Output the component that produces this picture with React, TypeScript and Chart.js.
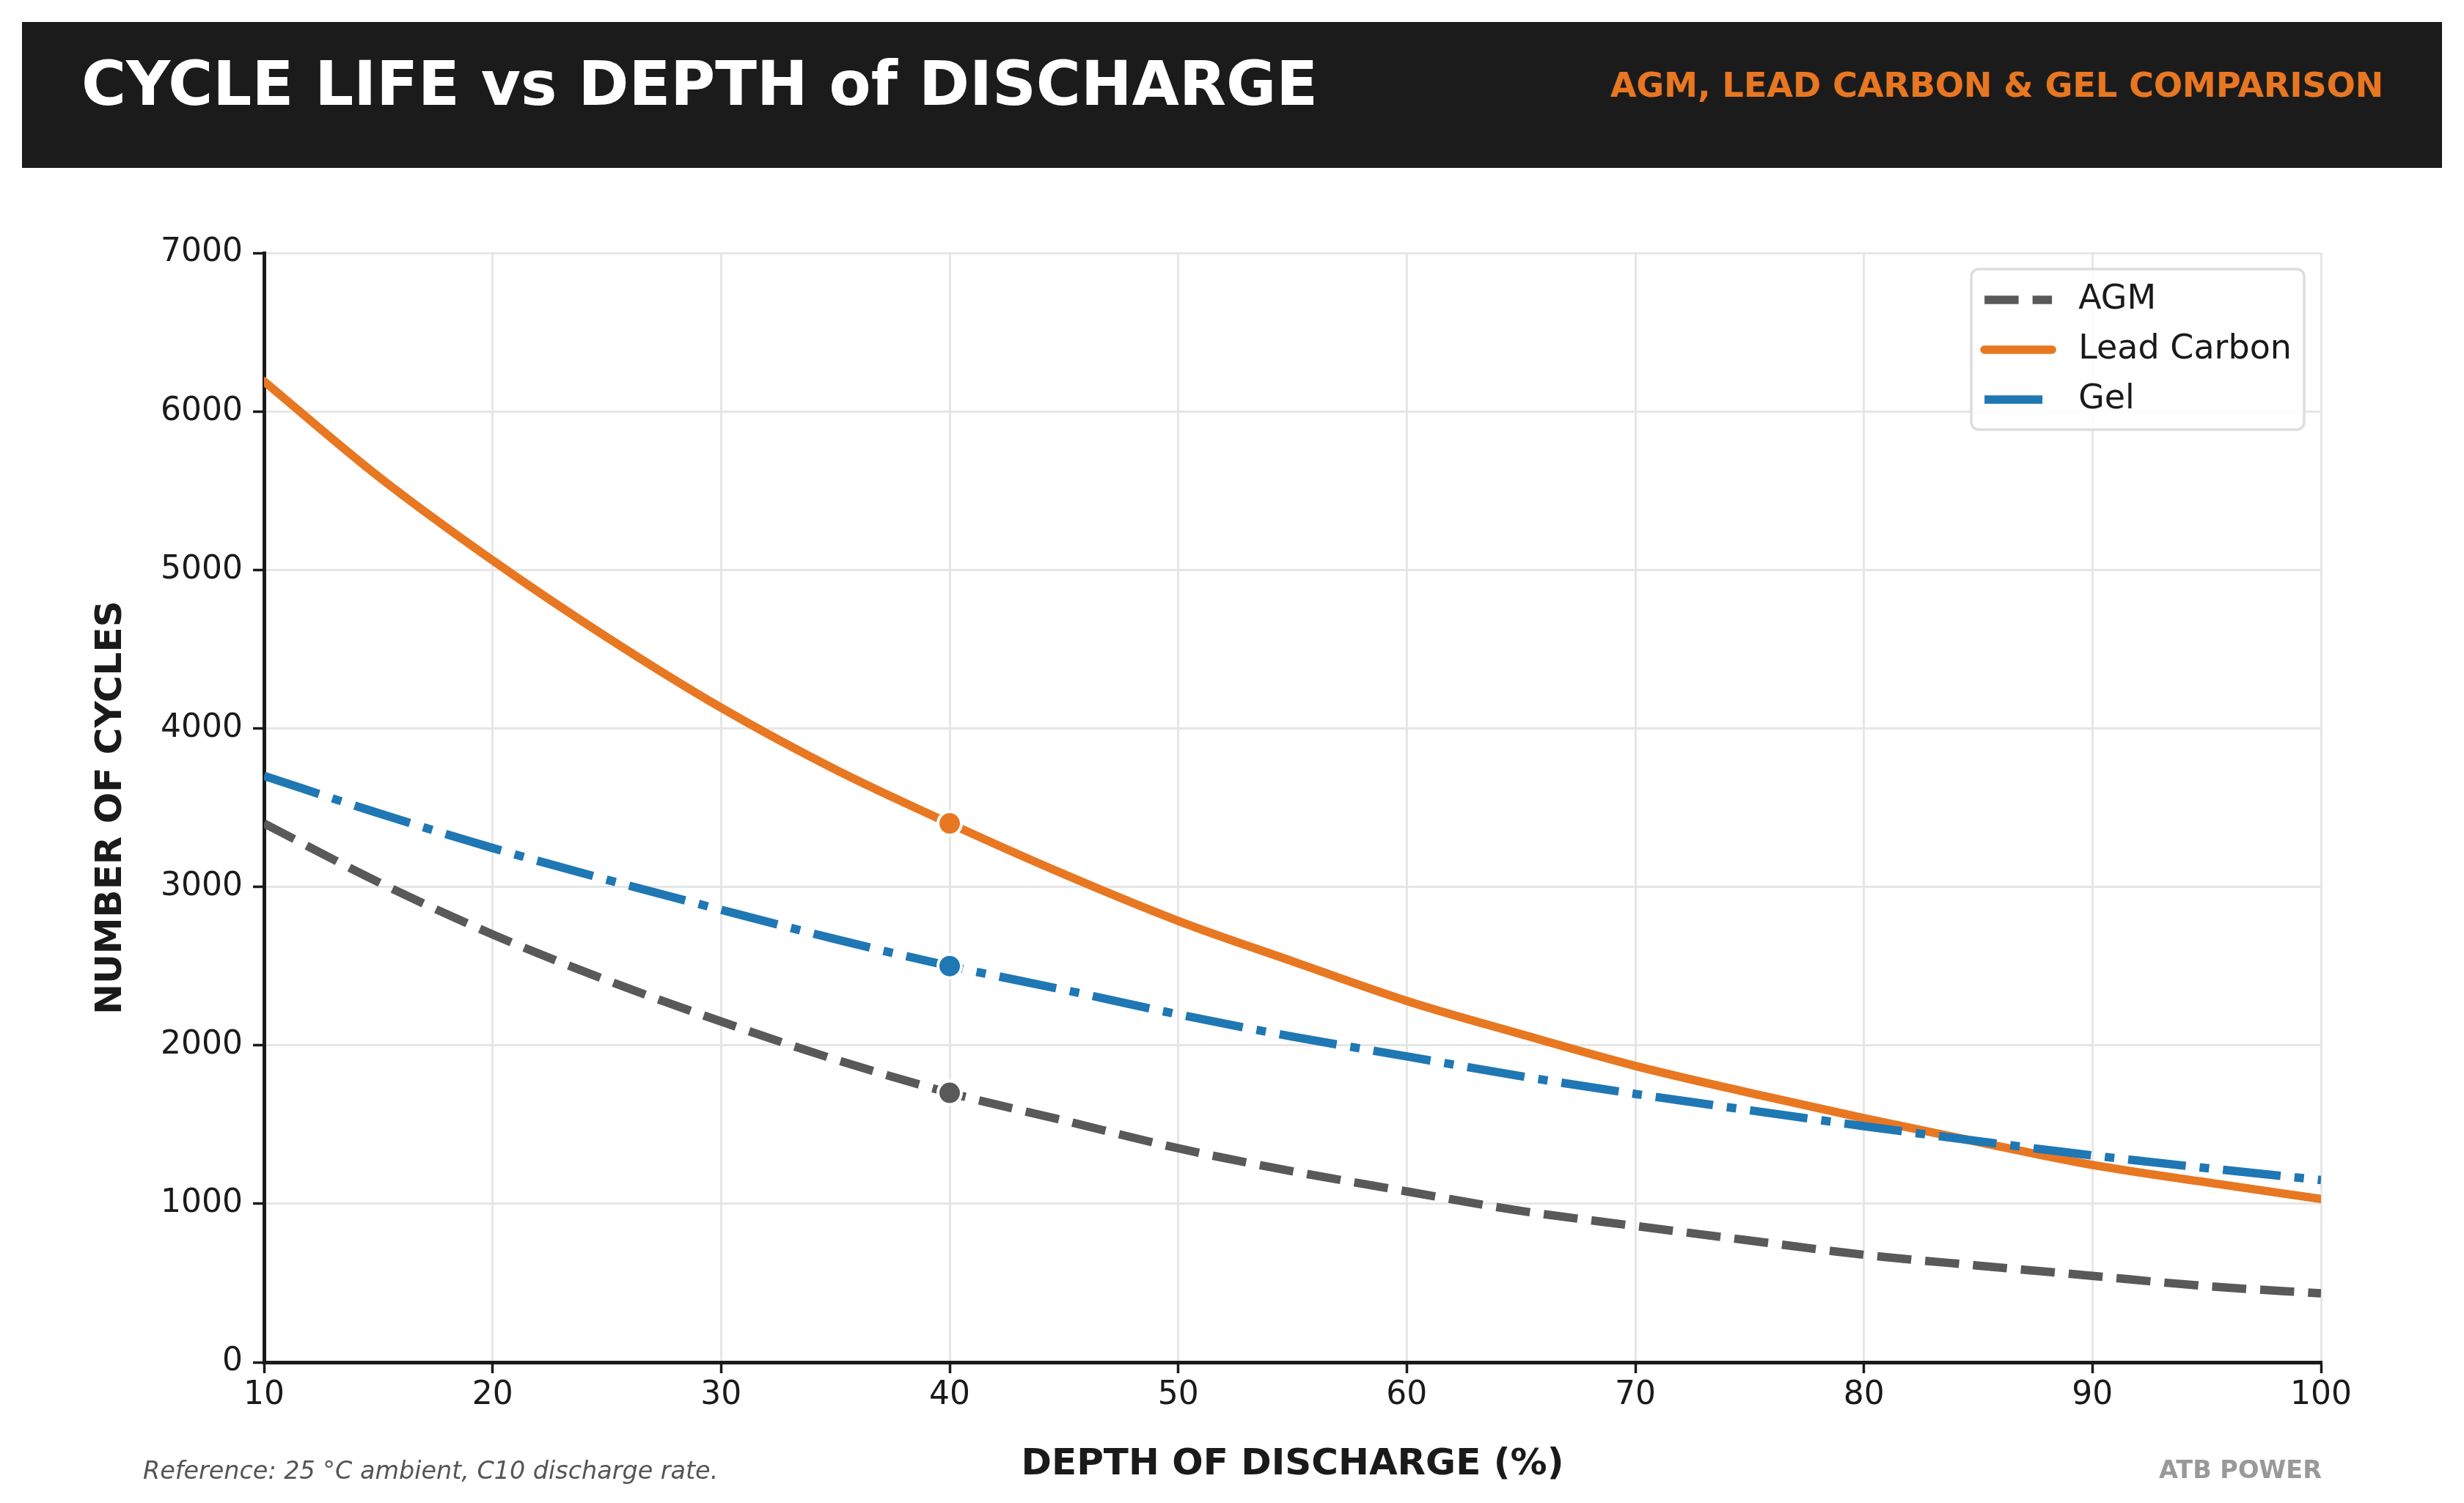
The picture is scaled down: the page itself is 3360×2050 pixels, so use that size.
import React, { useEffect, useRef } from "react";
import { Chart, registerables } from "chart.js";

Chart.register(...registerables);

// ---------- data ----------
const depthPercent = [10, 15, 20, 25, 30, 35, 40, 45, 50, 55, 60, 65, 70, 75, 80, 85, 90, 95, 100];
const agmCycles = [3400, 3030, 2700, 2410, 2150, 1910, 1700, 1525, 1350, 1205, 1078, 955, 860, 768, 678, 610, 545, 480, 435];
const leadCarbonCycles = [6190, 5590, 5060, 4575, 4130, 3740, 3400, 3080, 2785, 2530, 2280, 2070, 1870, 1700, 1540, 1390, 1245, 1135, 1030];
const gelCycles = [3700, 3465, 3245, 3045, 2855, 2670, 2500, 2350, 2195, 2055, 1930, 1805, 1693, 1590, 1490, 1395, 1305, 1225, 1150];
const seriesLabels = ["AGM", "Lead Carbon", "Gel"];
const markerDepth = 40;
const xRange = [10, 100];
const yRange = [0, 7000];
const xStep = 10;
const yStep = 1000;

const titleText = "CYCLE LIFE vs DEPTH of DISCHARGE";
const subtitleText = "AGM, LEAD CARBON & GEL COMPARISON";
const xTitle = "DEPTH OF DISCHARGE (%)";
const yTitle = "NUMBER OF CYCLES";
const noteText = "Reference: 25 °C ambient, C10 discharge rate.";
const brandText = "ATB POWER";

// ---------- style ----------
const FONT = "'DejaVu Sans', 'Liberation Sans', sans-serif";
const ORANGE = "#E87722";
const BLUE = "#1F77B4";
const GRAY = "#595959";
const INK = "#1a1a1a";
const GRID = "#e6e6e6";

const toPoints = (vals: number[]) => depthPercent.map((x, i) => ({ x, y: vals[i] }));

const legendBoxPlugin = {
  id: "legendBox",
  afterDatasetsDraw(chart: any) {
    const { ctx, chartArea } = chart;
    const fontSize = 46;
    ctx.save();
    ctx.font = `${fontSize}px ${FONT}`;
    const items = chart.data.datasets;
    const maxText = Math.max(...items.map((d: any) => ctx.measureText(d.label).width));
    const w = 146 + maxText + 17;
    const h = 219;
    const right = chartArea.right - 23;
    const left = right - w;
    const top = chartArea.top + 22;
    ctx.beginPath();
    if (ctx.roundRect) ctx.roundRect(left, top, w, h, 10);
    else ctx.rect(left, top, w, h);
    ctx.fillStyle = "rgba(255,255,255,0.85)";
    ctx.fill();
    ctx.lineWidth = 3.5;
    ctx.strokeStyle = "#dddddd";
    ctx.setLineDash([]);
    ctx.stroke();
    items.forEach((d: any, i: number) => {
      const y = top + 42 + i * 68;
      ctx.beginPath();
      ctx.setLineDash(d.borderDash || []);
      ctx.lineDashOffset = 0;
      ctx.lineCap = d.borderCapStyle || "butt";
      ctx.lineWidth = d.borderWidth;
      ctx.strokeStyle = d.borderColor;
      ctx.moveTo(left + 18, y);
      ctx.lineTo(left + 110, y);
      ctx.stroke();
      ctx.setLineDash([]);
      ctx.fillStyle = INK;
      ctx.textBaseline = "middle";
      ctx.textAlign = "left";
      ctx.fillText(d.label, left + 146, y);
    });
    ctx.restore();
  },
};

export default function App() {
  const canvasRef = useRef<HTMLCanvasElement | null>(null);

  useEffect(() => {
    const canvas = canvasRef.current;
    if (!canvas) return;
    Chart.defaults.font.family = FONT;

    const markerRadius = (ctx: any) => (ctx.raw && ctx.raw.x === markerDepth ? 16 : 0);
    const common = {
      borderWidth: 11.5,
      borderJoinStyle: "round",
      cubicInterpolationMode: "monotone",
      fill: false,
      pointRadius: markerRadius,
      pointHoverRadius: markerRadius,
      pointBorderColor: "#ffffff",
      pointBorderWidth: 4,
    };

    const chart = new Chart(canvas, {
      type: "line",
      data: {
        datasets: [
          {
            ...common,
            label: seriesLabels[0],
            data: toPoints(agmCycles),
            borderColor: GRAY,
            backgroundColor: GRAY,
            pointBackgroundColor: GRAY,
            borderDash: [46.5, 19],
            borderCapStyle: "butt",
            order: 2,
          },
          {
            ...common,
            label: seriesLabels[1],
            data: toPoints(leadCarbonCycles),
            borderColor: ORANGE,
            backgroundColor: ORANGE,
            pointBackgroundColor: ORANGE,
            borderCapStyle: "round",
            order: 1,
          },
          {
            ...common,
            label: seriesLabels[2],
            data: toPoints(gelCycles),
            borderColor: BLUE,
            backgroundColor: BLUE,
            pointBackgroundColor: BLUE,
            borderDash: [79, 19, 13, 19],
            borderCapStyle: "butt",
            order: 0,
          },
        ] as any,
      },
      options: {
        animation: false,
        responsive: false,
        devicePixelRatio: 1,
        events: [],
        layout: { padding: { top: 345, right: 195, bottom: 0, left: 0 } },
        plugins: {
          legend: { display: false },
          tooltip: { enabled: false },
          title: { display: false },
        },
        scales: {
          x: {
            type: "linear",
            min: xRange[0],
            max: xRange[1],
            ticks: {
              stepSize: xStep,
              color: INK,
              font: { family: FONT, size: 44 },
              padding: 4,
              callback: (v: any) => String(v),
            },
            grid: { color: GRID, lineWidth: 3, tickLength: 15, tickColor: INK, tickWidth: 3.5 },
            border: { color: INK, width: 5 },
            title: {
              display: true,
              text: xTitle,
              color: INK,
              font: { family: FONT, size: 50, weight: "bold" },
              padding: { top: 0, bottom: 22 },
            },
            afterFit: (s: any) => {
              s.height = 192;
            },
          },
          y: {
            type: "linear",
            min: yRange[0],
            max: yRange[1],
            ticks: {
              stepSize: yStep,
              color: INK,
              font: { family: FONT, size: 44 },
              padding: 14,
              callback: (v: any) => String(v),
            },
            grid: { color: GRID, lineWidth: 3, tickLength: 15, tickColor: INK, tickWidth: 3.5 },
            border: { color: INK, width: 5 },
            title: {
              display: true,
              text: yTitle,
              color: INK,
              font: { family: FONT, size: 50, weight: "bold" },
              padding: { top: 122, bottom: 0 },
            },
            afterFit: (s: any) => {
              s.width = 360;
            },
          },
        },
      } as any,
      plugins: [legendBoxPlugin],
    });

    return () => chart.destroy();
  }, []);

  const textBase: React.CSSProperties = {
    position: "absolute",
    whiteSpace: "nowrap",
    fontFamily: FONT,
    margin: 0,
  };

  return (
    <div
      style={{
        position: "absolute",
        left: 0,
        top: 0,
        width: 3360,
        height: 2050,
        background: "#ffffff",
        overflow: "hidden",
      }}
    >
      <canvas
        ref={canvasRef}
        width={3360}
        height={2050}
        style={{ position: "absolute", left: 0, top: 0, width: 3360, height: 2050 }}
      />
      <div
        style={{
          position: "absolute",
          left: 30,
          top: 30,
          width: 3300,
          height: 199,
          background: "#1b1b1b",
        }}
      />
      <div
        style={{
          ...textBase,
          left: 111,
          top: 72.5,
          fontSize: 83.2,
          lineHeight: "83.2px",
          fontWeight: "bold",
          color: "#ffffff",
        }}
      >
        {titleText}
      </div>
      <div
        style={{
          ...textBase,
          right: 110,
          top: 93,
          fontSize: 46,
          lineHeight: "46px",
          fontWeight: "bold",
          color: ORANGE,
        }}
      >
        {subtitleText}
      </div>
      <div
        style={{
          ...textBase,
          left: 195,
          top: 1989,
          fontSize: 33.4,
          lineHeight: "33.4px",
          fontStyle: "italic",
          color: "#555555",
        }}
      >
        {noteText}
      </div>
      <div
        style={{
          ...textBase,
          right: 194,
          top: 1988,
          fontSize: 33.5,
          lineHeight: "33.5px",
          fontWeight: "bold",
          color: "#999999",
        }}
      >
        {brandText}
      </div>
    </div>
  );
}
